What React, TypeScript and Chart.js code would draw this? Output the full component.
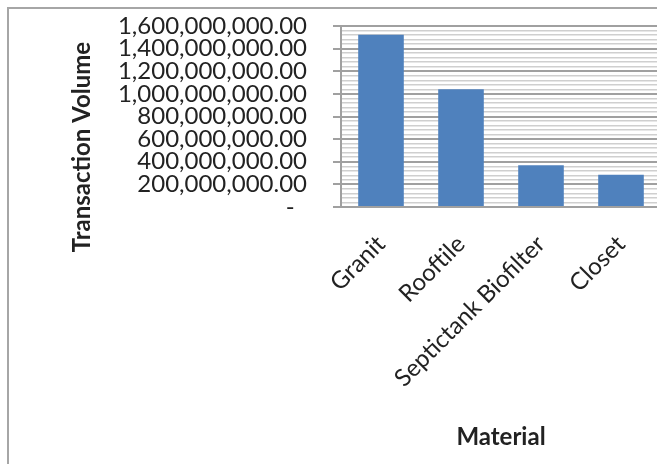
import React, { useEffect, useRef } from "react";
import { Chart, registerables } from "chart.js";

Chart.register(...registerables);

const categories = ["Granit", "Rooftile", "Septictank Biofilter", "Closet"];
const transactionVolume = [1523000000, 1040000000, 370000000, 284000000];
const yMin = 0;
const yMax = 1600000000;
const minorStep = 40000000;
const majorStep = 200000000;
const yAxisTitle = "Transaction Volume";
const xAxisTitle = "Material";

const FONT = "Lato";
const TEXT = "#222222";

function formatNum(v: number): string {
  if (v === 0) return "-  ";
  const s = Math.round(v).toString();
  return s.replace(/\B(?=(\d{3})+(?!\d))/g, ",") + ".00";
}

const yTitlePlugin = {
  id: "yTitlePlugin",
  afterDraw(chart: any) {
    const { ctx, chartArea } = chart;
    ctx.save();
    ctx.translate(chartArea.left - 259, chartArea.top + 121);
    ctx.rotate(-Math.PI / 2);
    ctx.font = `bold 24px ${FONT}`;
    ctx.fillStyle = TEXT;
    ctx.textAlign = "center";
    ctx.textBaseline = "middle";
    ctx.fillText(yAxisTitle, 0, 0);
    ctx.restore();
  },
};

export default function App() {
  const ref = useRef<HTMLCanvasElement>(null);
  useEffect(() => {
    if (!ref.current) return;
    const chart = new Chart(ref.current, {
      type: "bar",
      data: {
        labels: categories,
        datasets: [
          {
            data: transactionVolume,
            backgroundColor: "#4f81bd",
            borderWidth: 0,
            barPercentage: 0.57,
            categoryPercentage: 1,
          },
        ],
      },
      plugins: [yTitlePlugin],
      options: {
        animation: false,
        responsive: false,
        maintainAspectRatio: false,
        layout: { padding: { left: 0, right: 48, top: 17, bottom: 0 } },
        plugins: { legend: { display: false }, tooltip: { enabled: false } },
        scales: {
          x: {
            afterFit: (scale: any) => {
              scale.height = 257;
            },
            grid: { display: false },
            border: { display: true, color: "#a0a0a0", width: 2 },
            ticks: {
              color: TEXT,
              font: { family: FONT, size: 24 },
              maxRotation: 45,
              minRotation: 45,
              padding: 15,
            },
            title: {
              display: true,
              text: xAxisTitle,
              color: TEXT,
              font: { family: FONT, size: 24, weight: "bold" },
              padding: { top: 0, bottom: 12 },
            },
          },
          y: {
            min: yMin,
            max: yMax,
            afterFit: (scale: any) => {
              scale.width = 332;
              scale.paddingTop = 0;
              scale.paddingBottom = 0;
            },
            afterBuildTicks: (scale: any) => {
              const t = [];
              for (let v = yMin; v <= yMax; v += minorStep) t.push({ value: v });
              scale.ticks = t;
            },
            grid: {
              color: (c: any) => (c.tick && c.tick.value % majorStep === 0 ? "#a0a0a0" : "#cfcfcf"),
              lineWidth: (c: any) => (c.tick && c.tick.value % majorStep === 0 ? 2 : 1.5),
              tickColor: (c: any) => (c.tick && c.tick.value % majorStep === 0 ? "#a0a0a0" : "rgba(0,0,0,0)"),
              tickLength: 8,
            },
            border: { display: true, color: "#a0a0a0", width: 2 },
            ticks: {
              autoSkip: false,
              color: TEXT,
              font: { family: FONT, size: 24 },
              padding: 26,
              callback: (v: any) => (Number(v) % majorStep === 0 ? formatNum(Number(v)) : ""),
            },
          },
        },
      },
    });
    return () => chart.destroy();
  }, []);
  return (
    <div style={{ position: "fixed", inset: 0, overflow: "hidden", background: "#fff" }}>
      <div
        style={{
          position: "absolute",
          left: 7,
          top: 7,
          width: 720,
          height: 480,
          borderLeft: "2px solid #a6a6a6",
          borderTop: "2px solid #a6a6a6",
        }}
      />
      <canvas ref={ref} width={700} height={455} style={{ position: "absolute", left: 9, top: 9 }} />
    </div>
  );
}
